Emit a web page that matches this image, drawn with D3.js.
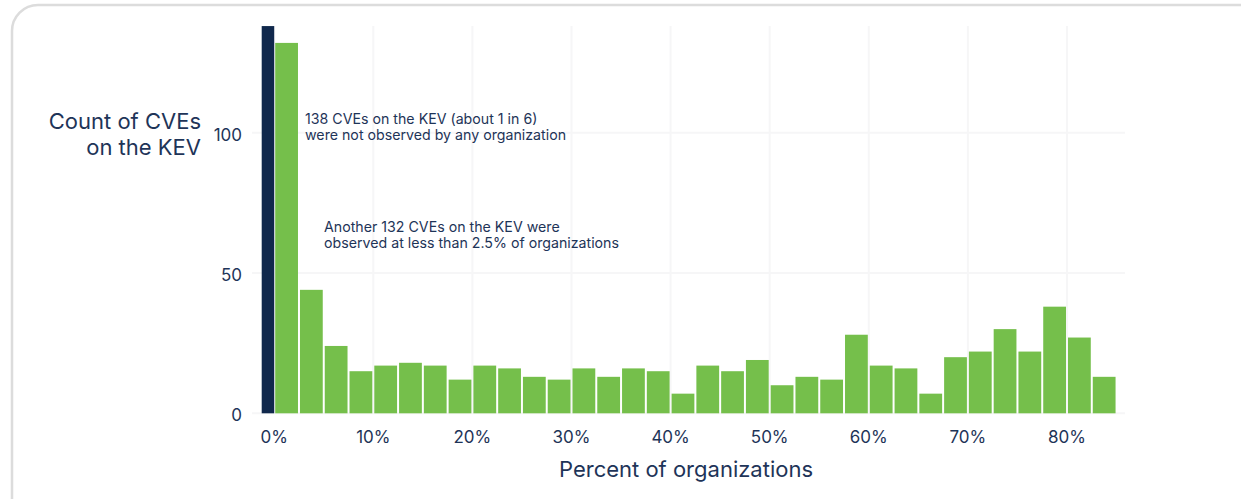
<!DOCTYPE html>
<html>
<head>
<meta charset="utf-8">
<script src="https://cdn.jsdelivr.net/npm/d3@7"></script>
<style>
  body { margin: 0; background: #ffffff; }
  svg text { font-family: Inter, "Liberation Sans", Arial, sans-serif; fill: #1e3458; }
</style>
</head>
<body>
<svg></svg>
<script>
var width = 1241
var height = 499

// bins of 2.5% of organizations (bin start)
var binStarts = [0, 2.5, 5, 7.5, 10, 12.5, 15, 17.5, 20, 22.5, 25, 27.5, 30, 32.5, 35, 37.5, 40,
                 42.5, 45, 47.5, 50, 52.5, 55, 57.5, 60, 62.5, 65, 67.5, 70, 72.5, 75, 77.5, 80, 82.5]
var binCounts = [132, 44, 24, 15, 17, 18, 17, 12, 17, 16, 13, 12, 16, 13, 16, 15, 7,
                 17, 15, 19, 10, 13, 12, 28, 17, 16, 7, 20, 22, 30, 22, 38, 27, 13]
var binWidth = 2.5
var zeroCount = 138   // CVEs not observed by any organization

var xTicks = [0, 10, 20, 30, 40, 50, 60, 70, 80]
var yTicks = [0, 50, 100]

var noteLines1 = ["138 CVEs on the KEV (about 1 in 6)", "were not observed by any organization"]
var noteLines2 = ["Another 132 CVEs on the KEV were", "observed at less than 2.5% of organizations"]

var green = "#75bf4b"
var navy = "#10284c"

var svg = d3.select("svg")
	.attr("width", width)
	.attr("height", height)

// card outline
svg.append("rect")
	.attr("x", 12)
	.attr("y", 5)
	.attr("width", 1260)
	.attr("height", 530)
	.attr("rx", 26)
	.attr("fill", "#fff")
	.attr("stroke", "#dcdcdc")
	.attr("stroke-width", 2.5)

var xScale = d3.scaleLinear()
	.domain([0, 80])
	.range([274.2, 1067])

var yScale = d3.scaleLinear()
	.domain([0, 100])
	.range([413.3, 132.7])

// gridlines
svg.selectAll(".vgrid")
	.data(xTicks)
	.join("line")
	.attr("class", "vgrid")
	.attr("x1", function(d){ return xScale(d) })
	.attr("x2", function(d){ return xScale(d) })
	.attr("y1", 26)
	.attr("y2", yScale(0))
	.attr("stroke", "#f6f6f7")
	.attr("stroke-width", 2)

svg.selectAll(".hgrid")
	.data(yTicks)
	.join("line")
	.attr("class", "hgrid")
	.attr("x1", 252)
	.attr("x2", 1125)
	.attr("y1", function(d){ return yScale(d) })
	.attr("y2", function(d){ return yScale(d) })
	.attr("stroke", "#f6f6f7")
	.attr("stroke-width", 2)

// bars
var barData = binStarts.map(function(s, i){ return {start: s, count: binCounts[i]} })

svg.selectAll(".bar")
	.data(barData)
	.join("rect")
	.attr("class", "bar")
	.attr("x", function(d){ return xScale(d.start) + 1 })
	.attr("width", function(d){ return xScale(d.start + binWidth) - xScale(d.start) - 2 })
	.attr("y", function(d){ return yScale(d.count) })
	.attr("height", function(d){ return yScale(0) - yScale(d.count) })
	.attr("fill", green)

// the zero bar, drawn just left of 0%
svg.append("rect")
	.attr("x", xScale(0) - 12.5)
	.attr("width", 12.5)
	.attr("y", yScale(zeroCount))
	.attr("height", yScale(0) - yScale(zeroCount))
	.attr("fill", navy)

// axes labels
svg.selectAll(".xtick")
	.data(xTicks)
	.join("text")
	.attr("class", "xtick")
	.attr("x", function(d){ return xScale(d) })
	.attr("y", 443)
	.attr("text-anchor", "middle")
	.attr("font-size", 17)
	.text(function(d){ return d + "%" })

svg.selectAll(".ytick")
	.data(yTicks)
	.join("text")
	.attr("class", "ytick")
	.attr("x", 242)
	.attr("y", function(d){ return yScale(d) + 8 })
	.attr("text-anchor", "end")
	.attr("font-size", 17)
	.text(function(d){ return d })

svg.append("text")
	.attr("x", 686)
	.attr("y", 477)
	.attr("text-anchor", "middle")
	.attr("font-size", 22)
	.text("Percent of organizations")

svg.append("text")
	.attr("x", 201)
	.attr("y", 129)
	.attr("text-anchor", "end")
	.attr("font-size", 22)
	.selectAll("tspan")
	.data(["Count of CVEs", "on the KEV"])
	.join("tspan")
	.attr("x", 201)
	.attr("dy", function(d, i){ return i == 0 ? 0 : 26 })
	.text(function(d){ return d })

// annotations
svg.append("text")
	.attr("x", 305)
	.attr("y", 124)
	.attr("font-size", 14.2)
	.selectAll("tspan")
	.data(noteLines1)
	.join("tspan")
	.attr("x", 305)
	.attr("dy", function(d, i){ return i == 0 ? 0 : 16 })
	.text(function(d){ return d })

svg.append("text")
	.attr("x", 324)
	.attr("y", 232)
	.attr("font-size", 14.2)
	.selectAll("tspan")
	.data(noteLines2)
	.join("tspan")
	.attr("x", 324)
	.attr("dy", function(d, i){ return i == 0 ? 0 : 16 })
	.text(function(d){ return d })
</script>
</body>
</html>
